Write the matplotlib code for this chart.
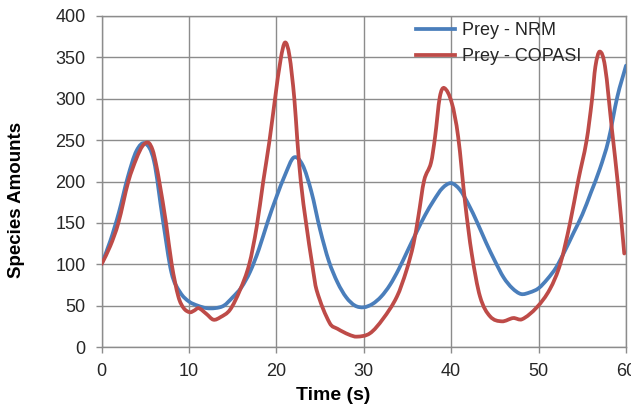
import matplotlib
matplotlib.use("Agg")
import matplotlib.pyplot as plt
import numpy as np
from matplotlib.path import Path
from matplotlib.patches import PathPatch
from matplotlib.lines import Line2D

plt.rcParams['font.family'] = ['Liberation Sans', 'DejaVu Sans']

# Prey population, NRM solution (sampled every second)
nrm_time = list(range(0, 61))
nrm_prey = [100, 128, 163, 205, 237, 246, 225, 155, 90, 66,
            55, 50, 47, 47, 50, 60, 72, 91, 118, 151,
            181, 208, 229, 220, 188, 142, 104, 78, 60, 50,
            48, 52, 61, 75, 94, 116, 138, 159, 177, 192,
            198, 190, 172, 150, 126, 104, 84, 71, 64, 66,
            71, 82, 96, 116, 138, 160, 187, 215, 250, 302,
            340]

# Prey population, COPASI solution
copasi_time = [0, 1, 1.93, 3.07, 4, 4.7, 5.36, 5.85, 6.24, 6.61, 7.38, 8.03, 8.79,
               9.4, 10.1, 10.6, 11.1, 12, 12.8, 13.6, 14.7, 15.85, 16.9, 17.75,
               18.5, 19.2, 19.85, 20.5, 21.0, 21.5, 22.06, 22.4, 22.8, 23.4, 24.1,
               24.6, 26.1, 27, 28.3, 29.2, 30.7, 32.2, 33.8, 34.9, 35.7, 36.25,
               36.9, 37.7, 38.16, 38.7, 39.2, 40.07, 40.8, 41.6, 42.35, 43.3, 44.45,
               45.8, 47.1, 48.1, 49.8, 51.3, 52.5, 53.6, 54.55, 55.5, 56.1, 56.5,
               57.0, 57.6, 58.4, 59.1, 59.8]
copasi_prey = [100, 122, 150, 200, 228, 243, 247, 238, 221, 200, 150, 100, 61,
               47, 42, 44, 47, 40, 33, 36, 45, 69, 100, 145,
               200, 248, 300, 348, 368, 352, 300, 250, 200, 150, 100,
               69, 29, 22, 15, 12.5, 16.5, 34, 61, 93, 125, 158,
               201, 223, 254, 302, 313, 295, 254, 174, 113, 61, 37,
               31, 35, 33.5, 48, 70, 101, 150, 202, 250, 298, 339,
               357, 339, 262, 194, 113]

x_ticks = [0, 10, 20, 30, 40, 50, 60]
y_ticks = [0, 50, 100, 150, 200, 250, 300, 350, 400]


def smooth_path(x, y):
    """Cubic Bezier path through the data points (finite-difference tangents)."""
    x = np.asarray(x, float)
    y = np.asarray(y, float)
    n = len(x)
    m = np.zeros(n)
    m[1:-1] = (y[2:] - y[:-2]) / (x[2:] - x[:-2])
    m[0] = (y[1] - y[0]) / (x[1] - x[0])
    m[-1] = (y[-1] - y[-2]) / (x[-1] - x[-2])
    verts = [(x[0], y[0])]
    codes = [Path.MOVETO]
    for i in range(n - 1):
        h = x[i + 1] - x[i]
        verts += [(x[i] + h / 3, y[i] + m[i] * h / 3),
                  (x[i + 1] - h / 3, y[i + 1] - m[i + 1] * h / 3),
                  (x[i + 1], y[i + 1])]
        codes += [Path.CURVE4] * 3
    return Path(verts, codes)


fig = plt.figure(figsize=(6.31, 4.09), dpi=100)
ax = fig.add_axes([101.5 / 631, 1 - 347 / 409, 524.5 / 631, 331 / 409])

blue = '#4a7ebb'
red = '#be4b48'
lw = 2.7
for xs, ys, col, z in [(nrm_time, nrm_prey, blue, 3),
                       (copasi_time, copasi_prey, red, 4)]:
    ax.add_patch(PathPatch(smooth_path(xs, ys), facecolor='none', edgecolor=col,
                           lw=lw, joinstyle='round', capstyle='round', zorder=z))

ax.set_xlim(0, 60)
ax.set_ylim(0, 400)
ax.set_xticks(x_ticks)
ax.set_yticks(y_ticks)
grid_col = '#8c8c8c'
ax.grid(True, color=grid_col, lw=1.0)
ax.set_axisbelow(True)
for s in ax.spines.values():
    s.set_color(grid_col)
    s.set_linewidth(1.0)
ax.tick_params(axis='both', colors=grid_col, length=4.5, width=1.0,
               labelcolor='#262626', labelsize=13, pad=7)

ax.set_xlabel('Time (s)', fontsize=14, fontweight='bold')
ax.xaxis.set_label_coords((333 - 101.5) / 524.5, -(396 - 347) / 331)
ax.xaxis.label.set_va('center')
ax.set_ylabel('Species Amounts', fontsize=13.5, fontweight='bold')
ax.yaxis.set_label_coords((17 - 101.5) / 524.5, (347 - 200) / 331)
ax.yaxis.label.set_va('center')

handles = [Line2D([], [], color=blue, lw=lw), Line2D([], [], color=red, lw=lw)]
leg = ax.legend(handles, ['Prey - NRM', 'Prey - COPASI'], loc='upper left',
                bbox_to_anchor=(416 / 631, 1 - 22 / 409),
                bbox_transform=fig.transFigure, frameon=False, fontsize=13,
                handlelength=2.15, handletextpad=0.4, labelspacing=0.5,
                borderpad=0, borderaxespad=0)
for t in leg.get_texts():
    t.set_color('#262626')
leg.set_zorder(10)

fig.savefig('out.png', dpi=100)
